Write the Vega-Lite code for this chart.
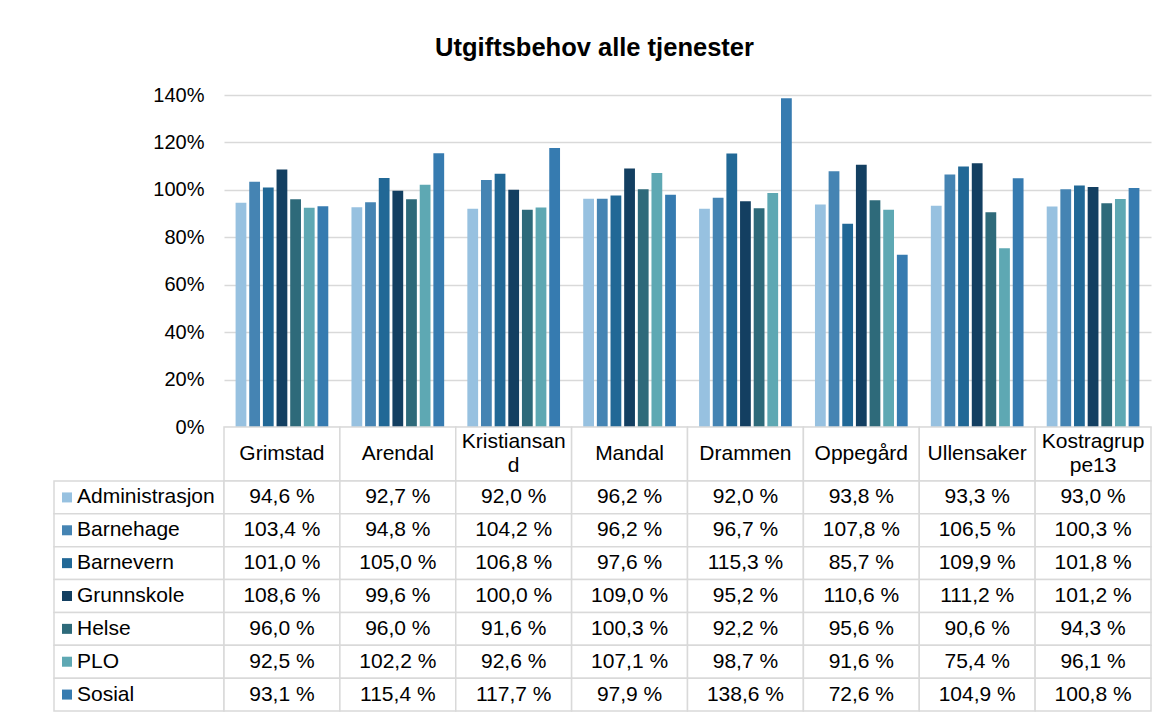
{
  "$schema": "https://vega.github.io/schema/vega-lite/v6.json",
  "padding": {"left": 53, "top": 35, "right": 19, "bottom": 7},
  "background": "white",
  "title": {"text": "Utgiftsbehov alle tjenester", "fontSize": 25.5, "font": "Liberation Sans", "fontWeight": "bold", "color": "#000000", "anchor": "middle", "offset": 24, "dx": -8},
  "datasets": {
    "vals": [
      {"kommune": "Grimstad", "tjeneste": "Administrasjon", "verdi": 94.6},
      {"kommune": "Arendal", "tjeneste": "Administrasjon", "verdi": 92.7},
      {"kommune": "Kristiansand", "tjeneste": "Administrasjon", "verdi": 92.0},
      {"kommune": "Mandal", "tjeneste": "Administrasjon", "verdi": 96.2},
      {"kommune": "Drammen", "tjeneste": "Administrasjon", "verdi": 92.0},
      {"kommune": "Oppegård", "tjeneste": "Administrasjon", "verdi": 93.8},
      {"kommune": "Ullensaker", "tjeneste": "Administrasjon", "verdi": 93.3},
      {"kommune": "Kostragruppe13", "tjeneste": "Administrasjon", "verdi": 93.0},
      {"kommune": "Grimstad", "tjeneste": "Barnehage", "verdi": 103.4},
      {"kommune": "Arendal", "tjeneste": "Barnehage", "verdi": 94.8},
      {"kommune": "Kristiansand", "tjeneste": "Barnehage", "verdi": 104.2},
      {"kommune": "Mandal", "tjeneste": "Barnehage", "verdi": 96.2},
      {"kommune": "Drammen", "tjeneste": "Barnehage", "verdi": 96.7},
      {"kommune": "Oppegård", "tjeneste": "Barnehage", "verdi": 107.8},
      {"kommune": "Ullensaker", "tjeneste": "Barnehage", "verdi": 106.5},
      {"kommune": "Kostragruppe13", "tjeneste": "Barnehage", "verdi": 100.3},
      {"kommune": "Grimstad", "tjeneste": "Barnevern", "verdi": 101.0},
      {"kommune": "Arendal", "tjeneste": "Barnevern", "verdi": 105.0},
      {"kommune": "Kristiansand", "tjeneste": "Barnevern", "verdi": 106.8},
      {"kommune": "Mandal", "tjeneste": "Barnevern", "verdi": 97.6},
      {"kommune": "Drammen", "tjeneste": "Barnevern", "verdi": 115.3},
      {"kommune": "Oppegård", "tjeneste": "Barnevern", "verdi": 85.7},
      {"kommune": "Ullensaker", "tjeneste": "Barnevern", "verdi": 109.9},
      {"kommune": "Kostragruppe13", "tjeneste": "Barnevern", "verdi": 101.8},
      {"kommune": "Grimstad", "tjeneste": "Grunnskole", "verdi": 108.6},
      {"kommune": "Arendal", "tjeneste": "Grunnskole", "verdi": 99.6},
      {"kommune": "Kristiansand", "tjeneste": "Grunnskole", "verdi": 100.0},
      {"kommune": "Mandal", "tjeneste": "Grunnskole", "verdi": 109.0},
      {"kommune": "Drammen", "tjeneste": "Grunnskole", "verdi": 95.2},
      {"kommune": "Oppegård", "tjeneste": "Grunnskole", "verdi": 110.6},
      {"kommune": "Ullensaker", "tjeneste": "Grunnskole", "verdi": 111.2},
      {"kommune": "Kostragruppe13", "tjeneste": "Grunnskole", "verdi": 101.2},
      {"kommune": "Grimstad", "tjeneste": "Helse", "verdi": 96.0},
      {"kommune": "Arendal", "tjeneste": "Helse", "verdi": 96.0},
      {"kommune": "Kristiansand", "tjeneste": "Helse", "verdi": 91.6},
      {"kommune": "Mandal", "tjeneste": "Helse", "verdi": 100.3},
      {"kommune": "Drammen", "tjeneste": "Helse", "verdi": 92.2},
      {"kommune": "Oppegård", "tjeneste": "Helse", "verdi": 95.6},
      {"kommune": "Ullensaker", "tjeneste": "Helse", "verdi": 90.6},
      {"kommune": "Kostragruppe13", "tjeneste": "Helse", "verdi": 94.3},
      {"kommune": "Grimstad", "tjeneste": "PLO", "verdi": 92.5},
      {"kommune": "Arendal", "tjeneste": "PLO", "verdi": 102.2},
      {"kommune": "Kristiansand", "tjeneste": "PLO", "verdi": 92.6},
      {"kommune": "Mandal", "tjeneste": "PLO", "verdi": 107.1},
      {"kommune": "Drammen", "tjeneste": "PLO", "verdi": 98.7},
      {"kommune": "Oppegård", "tjeneste": "PLO", "verdi": 91.6},
      {"kommune": "Ullensaker", "tjeneste": "PLO", "verdi": 75.4},
      {"kommune": "Kostragruppe13", "tjeneste": "PLO", "verdi": 96.1},
      {"kommune": "Grimstad", "tjeneste": "Sosial", "verdi": 93.1},
      {"kommune": "Arendal", "tjeneste": "Sosial", "verdi": 115.4},
      {"kommune": "Kristiansand", "tjeneste": "Sosial", "verdi": 117.7},
      {"kommune": "Mandal", "tjeneste": "Sosial", "verdi": 97.9},
      {"kommune": "Drammen", "tjeneste": "Sosial", "verdi": 138.6},
      {"kommune": "Oppegård", "tjeneste": "Sosial", "verdi": 72.6},
      {"kommune": "Ullensaker", "tjeneste": "Sosial", "verdi": 104.9},
      {"kommune": "Kostragruppe13", "tjeneste": "Sosial", "verdi": 100.8}
    ],
    "kommuner": [
      {"kommune": "Grimstad", "header": "Grimstad"},
      {"kommune": "Arendal", "header": "Arendal"},
      {"kommune": "Kristiansand", "header": "Kristiansan\nd"},
      {"kommune": "Mandal", "header": "Mandal"},
      {"kommune": "Drammen", "header": "Drammen"},
      {"kommune": "Oppegård", "header": "Oppegård"},
      {"kommune": "Ullensaker", "header": "Ullensaker"},
      {"kommune": "Kostragruppe13", "header": "Kostragrup\npe13"}
    ],
    "tjenester": [
      {"tjeneste": "Administrasjon"},
      {"tjeneste": "Barnehage"},
      {"tjeneste": "Barnevern"},
      {"tjeneste": "Grunnskole"},
      {"tjeneste": "Helse"},
      {"tjeneste": "PLO"},
      {"tjeneste": "Sosial"}
    ]
  },
  "columns": 2,
  "spacing": 0,
  "bounds": "flush",
  "align": "each",
  "concat": [
    {
      "width": 170, "height": 332,
      "data": {"values": [{}]},
      "mark": {"type": "text", "text": ""},
      "encoding": {}
    },
    {
      "width": 927, "height": 332,
      "data": {"name": "vals"},
      "mark": {"type": "bar"},
      "encoding": {
        "x": {"field": "kommune", "type": "nominal", "sort": null,
              "scale": {"domain": ["Grimstad", "Arendal", "Kristiansand", "Mandal", "Drammen", "Oppegård", "Ullensaker", "Kostragruppe13"], "paddingInner": 0.2, "paddingOuter": 0.1},
              "axis": null},
        "xOffset": {"field": "tjeneste", "type": "nominal", "sort": null,
              "scale": {"domain": ["Administrasjon", "Barnehage", "Barnevern", "Grunnskole", "Helse", "PLO", "Sosial"], "paddingInner": 0.21, "paddingOuter": 0}},
        "y": {"field": "verdi", "type": "quantitative",
              "scale": {"domain": [0, 140], "nice": false},
              "axis": {"values": [0, 20, 40, 60, 80, 100, 120, 140], "labelExpr": "datum.value + '%'", "domain": false, "ticks": false, "labelPadding": 20, "labelFontSize": 20, "labelFont": "Liberation Sans", "labelColor": "#000000", "gridColor": "#D9D9D9", "gridWidth": 1.3, "title": null}},
        "color": {"field": "tjeneste", "type": "nominal",
              "scale": {"domain": ["Administrasjon", "Barnehage", "Barnevern", "Grunnskole", "Helse", "PLO", "Sosial"], "range": ["#97C1E0", "#4584B3", "#216896", "#133F61", "#2E6A7A", "#5EA8B3", "#367BB0"]},
              "legend": null}
      }
    },
    {
      "width": 170, "height": 54,
      "data": {"values": [{}]},
      "mark": {"type": "text", "text": ""},
      "encoding": {}
    },
    {
      "width": 927, "height": 54,
      "data": {"name": "kommuner"},
      "encoding": {
        "x": {"field": "kommune", "type": "nominal", "sort": null,
              "scale": {"domain": ["Grimstad", "Arendal", "Kristiansand", "Mandal", "Drammen", "Oppegård", "Ullensaker", "Kostragruppe13"], "padding": 0},
              "axis": null}
      },
      "layer": [
        {"mark": {"type": "rect", "fill": "white", "stroke": "#D9D9D9", "strokeWidth": 1.5}},
        {"transform": [{"filter": "indexof(datum.header, '\\n') < 0"}],
         "mark": {"type": "text", "fontSize": 21, "font": "Liberation Sans", "color": "#000000"},
         "encoding": {"text": {"field": "header"}}},
        {"transform": [{"filter": "indexof(datum.header, '\\n') >= 0"}],
         "mark": {"type": "text", "fontSize": 21, "font": "Liberation Sans", "lineBreak": "\n", "lineHeight": 24, "dy": -12, "color": "#000000"},
         "encoding": {"text": {"field": "header"}}}
      ]
    },
    {
      "width": 170, "height": 230,
      "data": {"name": "tjenester"},
      "encoding": {
        "y": {"field": "tjeneste", "type": "nominal", "sort": null,
              "scale": {"domain": ["Administrasjon", "Barnehage", "Barnevern", "Grunnskole", "Helse", "PLO", "Sosial"], "padding": 0},
              "axis": null}
      },
      "layer": [
        {"mark": {"type": "rect", "fill": "white", "stroke": "#D9D9D9", "strokeWidth": 1.5}},
        {"mark": {"type": "square", "x": 13, "size": 100, "opacity": 1, "filled": true},
         "encoding": {"color": {"field": "tjeneste", "type": "nominal",
              "scale": {"domain": ["Administrasjon", "Barnehage", "Barnevern", "Grunnskole", "Helse", "PLO", "Sosial"], "range": ["#97C1E0", "#4584B3", "#216896", "#133F61", "#2E6A7A", "#5EA8B3", "#367BB0"]},
              "legend": null}}},
        {"mark": {"type": "text", "x": 23, "align": "left", "fontSize": 21, "font": "Liberation Sans", "color": "#000000"},
         "encoding": {"text": {"field": "tjeneste"}}}
      ]
    },
    {
      "width": 927, "height": 230,
      "data": {"name": "vals"},
      "transform": [{"calculate": "replace(format(datum.verdi, '.1f'), '.', ',') + ' %'", "as": "label"}],
      "encoding": {
        "x": {"field": "kommune", "type": "nominal", "sort": null,
              "scale": {"domain": ["Grimstad", "Arendal", "Kristiansand", "Mandal", "Drammen", "Oppegård", "Ullensaker", "Kostragruppe13"], "padding": 0},
              "axis": null},
        "y": {"field": "tjeneste", "type": "nominal", "sort": null,
              "scale": {"domain": ["Administrasjon", "Barnehage", "Barnevern", "Grunnskole", "Helse", "PLO", "Sosial"], "padding": 0},
              "axis": null}
      },
      "layer": [
        {"mark": {"type": "rect", "fill": "white", "stroke": "#D9D9D9", "strokeWidth": 1.5}},
        {"mark": {"type": "text", "fontSize": 21, "font": "Liberation Sans", "color": "#000000"},
         "encoding": {"text": {"field": "label"}}}
      ]
    }
  ],
  "config": {
    "view": {"stroke": null},
    "font": "Liberation Sans"
  }
}
